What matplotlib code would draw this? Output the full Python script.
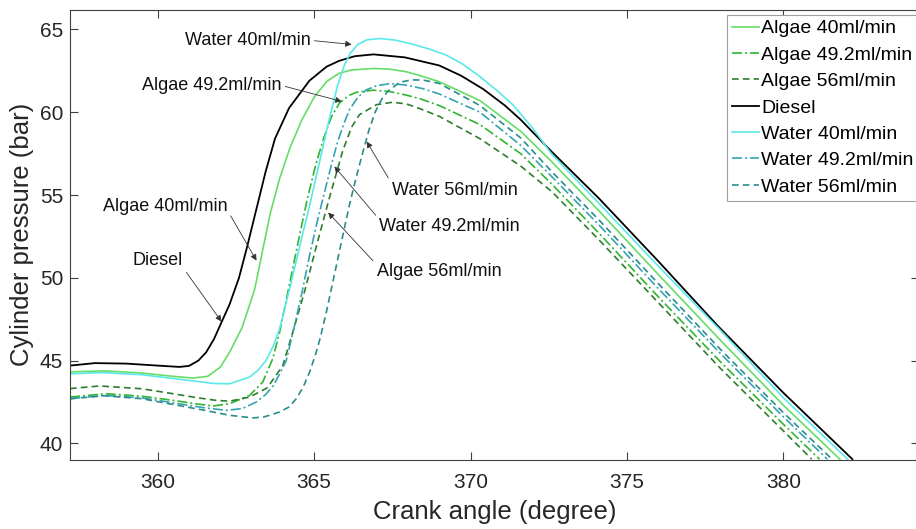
import matplotlib
matplotlib.use('Agg')
import matplotlib.pyplot as plt

plt.rcParams['font.family'] = ['Liberation Sans', 'DejaVu Sans']

# crank angle (deg) / cylinder pressure (bar)
diesel_x = [357.2, 358.0, 359.0, 360.0, 360.7, 361.0, 361.3, 361.55, 361.8, 362.05, 362.3, 362.6,
            362.85, 363.15, 363.45, 363.75, 364.2, 364.85, 365.4, 365.8, 366.3, 366.9, 367.9, 369.0,
            369.7, 370.4, 371.1, 371.6, 372.6, 374.1, 376.0, 377.9, 380.0, 382.2]
diesel_y = [44.70, 44.85, 44.82, 44.70, 44.62, 44.68, 45.0, 45.5, 46.3, 47.35, 48.4, 50.0,
            51.8, 54.1, 56.4, 58.4, 60.25, 61.9, 62.75, 63.1, 63.38, 63.49, 63.31, 62.82,
            62.2, 61.4, 60.4, 59.55, 57.6, 54.8, 51.0, 47.1, 43.05, 39.05]

algae40_x = [357.2, 358.3, 359.5, 360.5, 361.13, 361.6, 362.0, 362.3, 362.7, 363.1, 363.35, 363.6,
             363.9, 364.22, 364.6, 365.0, 365.4, 365.8, 366.2, 366.9, 367.4, 367.95, 368.4, 369.0,
             370.3, 371.6, 372.6, 374.1, 376.0, 378.0, 380.0, 381.8]
algae40_y = [44.32, 44.38, 44.25, 44.05, 43.95, 44.05, 44.6, 45.5, 47.0, 49.3, 51.6, 53.9,
             56.0, 57.8, 59.5, 60.9, 61.85, 62.35, 62.55, 62.64, 62.6, 62.44, 62.2, 61.84,
             60.7, 58.85, 57.0, 54.05, 50.2, 46.2, 42.3, 39.05]

algae49_x = [357.2, 358.36, 359.5, 360.5, 361.2, 361.77, 362.3, 362.94, 363.36, 363.68, 363.9, 364.06,
             364.3, 364.55, 364.8, 365.05, 365.3, 365.55, 365.81, 366.1, 366.35, 366.88, 367.4, 367.95,
             368.4, 369.0, 370.3, 371.6, 372.6, 374.1, 376.0, 378.0, 380.0, 381.15]
algae49_y = [42.80, 43.00, 42.85, 42.6, 42.4, 42.26, 42.4, 42.9, 43.71, 45.12, 46.73, 48.2,
             50.4, 52.7, 54.9, 56.8, 58.4, 59.7, 60.55, 61.0, 61.2, 61.33, 61.25, 61.03,
             60.8, 60.4, 59.25, 57.5, 55.65, 52.7, 48.85, 44.9, 41.15, 39.05]

algae56_x = [357.2, 358.15, 359.5, 360.5, 361.3, 361.87, 362.3, 362.94, 363.5, 364.0, 364.3, 364.7,
             365.1, 365.5, 365.92, 366.2, 366.45, 366.99, 367.5, 367.95, 368.4, 369.0, 370.3, 371.6,
             372.6, 374.1, 376.0, 378.0, 380.0, 380.9]
algae56_y = [43.31, 43.47, 43.3, 43.0, 42.75, 42.6, 42.55, 42.8, 43.35, 44.7, 46.6, 49.2,
             52.1, 54.9, 57.7, 59.1, 59.85, 60.45, 60.6, 60.5, 60.2, 59.75, 58.4, 56.75,
             55.2, 52.3, 48.5, 44.5, 40.75, 39.05]

water40_x = [357.2, 358.2, 359.5, 360.8, 361.8, 362.3, 362.94, 363.2, 363.47, 363.7, 363.9, 364.22,
             364.54, 364.85, 365.15, 365.45, 365.75, 365.95, 366.15, 366.4, 366.7, 367.1, 367.6, 368.16,
             368.7, 369.22, 369.75, 370.3, 370.85, 371.35, 372.0, 372.6, 374.1, 376.0, 378.0, 380.0, 382.05]
water40_y = [44.20, 44.28, 44.15, 43.85, 43.62, 43.60, 44.01, 44.4, 45.02, 45.9, 46.93, 49.35,
             51.9, 54.3, 56.8, 59.3, 61.6, 62.75, 63.55, 64.1, 64.37, 64.45, 64.35, 64.1,
             63.8, 63.45, 62.9, 62.15, 61.3, 60.45, 59.0, 57.45, 54.5, 50.7, 46.8, 42.75, 39.05]

water49_x = [357.2, 358.3, 359.5, 360.5, 361.5, 362.19, 362.7, 363.15, 363.45, 363.7, 363.9, 364.11,
             364.35, 364.6, 364.85, 365.1, 365.35, 365.55, 365.75, 365.95, 366.13, 366.4, 366.67, 367.0,
             367.41, 367.9, 368.48, 369.0, 370.3, 371.6, 372.6, 374.1, 376.0, 378.0, 380.0, 381.4]
water49_y = [42.70, 42.90, 42.75, 42.45, 42.15, 42.0, 42.1, 42.5, 42.95, 43.5, 44.2, 45.0,
             46.9, 49.0, 51.3, 53.4, 55.3, 56.8, 58.2, 59.3, 60.15, 60.9, 61.35, 61.6,
             61.72, 61.65, 61.42, 61.1, 60.0, 58.0, 56.1, 53.2, 49.35, 45.4, 41.6, 39.05]

water56_x = [357.2, 358.3, 359.5, 360.5, 361.5, 362.3, 363.04, 363.4, 363.9, 364.2, 364.43, 364.65,
             364.86, 365.05, 365.2, 365.4, 365.65, 365.9, 366.13, 366.35, 366.56, 366.75, 366.95, 367.15,
             367.35, 367.73, 368.1, 368.48, 369.0, 370.3, 371.6, 372.6, 374.1, 376.0, 378.0, 380.0, 381.55]
water56_y = [42.70, 42.88, 42.7, 42.35, 42.0, 41.7, 41.54, 41.6, 41.9, 42.2, 42.7, 43.4,
             44.32, 45.4, 46.4, 48.0, 50.2, 52.4, 54.4, 56.1, 57.6, 58.9, 60.0, 60.75,
             61.25, 61.8, 61.95, 61.94, 61.74, 60.4, 58.45, 56.4, 53.5, 49.65, 45.65, 41.85, 39.05]

labels = ['Algae 40ml/min', 'Algae 49.2ml/min', 'Algae 56ml/min', 'Diesel',
          'Water 40ml/min', 'Water 49.2ml/min', 'Water 56ml/min']

x_ticks = [360, 365, 370, 375, 380]
y_ticks = [40, 45, 50, 55, 60, 65]

W, H = 916, 529
fig = plt.figure(figsize=(W / 100, H / 100), dpi=100)
# axes runs just past the right edge, like the cropped original
ax = fig.add_axes([70 / W, (H - 460) / H, (919 - 70) / W, 450.5 / H])

dash = (0, (4, 2.5))
dashdot = (0, (6, 1.8, 1.2, 1.8))
lw = 1.2

ax.plot(algae40_x, algae40_y, color='#66dd66', lw=lw, label=labels[0])
ax.plot(algae49_x, algae49_y, color='#2fb52f', lw=lw, linestyle=dashdot, label=labels[1])
ax.plot(algae56_x, algae56_y, color='#2e7d2e', lw=lw, linestyle=dash, label=labels[2])
ax.plot(diesel_x, diesel_y, color='black', lw=1.3, label=labels[3])
ax.plot(water40_x, water40_y, color='#5ce8e8', lw=lw, label=labels[4])
ax.plot(water49_x, water49_y, color='#35a3b0', lw=lw, linestyle=dashdot, label=labels[5])
ax.plot(water56_x, water56_y, color='#2b8c8c', lw=lw, linestyle=dash, label=labels[6])

ax.set_xlim(357.2, 384.33)
ax.set_ylim(39.0, 66.2)
ax.set_xticks(x_ticks)
ax.set_yticks(y_ticks)
ax.tick_params(direction='in', length=5.5, width=0.8, color='#404040', labelcolor='#262626',
               labelsize=15, top=True, right=True)
ax.tick_params(axis='x', pad=9)
ax.tick_params(axis='y', pad=5)
for s in ax.spines.values():
    s.set_color('#404040')
    s.set_linewidth(0.8)

ax.set_xlabel('Crank angle (degree)', fontsize=18.5, color='#262626')
ax.set_ylabel('Cylinder pressure (bar)', fontsize=18.5, color='#262626')
ax.xaxis.set_label_coords(0.5, -0.088)
ax.yaxis.set_label_coords(-0.042, 0.5)

arrow = dict(arrowstyle='-|>', color='#333333', lw=0.6, mutation_scale=9, shrinkA=1, shrinkB=0)
notes = [
    ('Water 40ml/min', (366.2, 64.09), (360.86, 64.34), (1, 0.5)),
    ('Algae 49.2ml/min', (365.88, 60.65), (359.49, 61.62), (1, 0.5)),
    ('Algae 40ml/min', (363.16, 51.04), (358.24, 54.31), (1, 0.3)),
    ('Diesel', (362.04, 47.36), (359.2, 51.04), (1, 0.1)),
    ('Water 56ml/min', (366.68, 58.23), (367.48, 55.27), (0, 0.9)),
    ('Water 49.2ml/min', (365.65, 56.72), (367.09, 53.1), (0, 0.9)),
    ('Algae 56ml/min', (365.45, 53.94), (366.997, 50.38), (0, 0.9)),
]
for txt, tip, pos, rel in notes:
    a = dict(arrow)
    a['relpos'] = rel
    ax.annotate(txt, xy=tip, xytext=pos, fontsize=13, ha='left', va='center',
                color='#111111', arrowprops=a)

leg = ax.legend(loc='upper left', bbox_to_anchor=(727 / W, 1 - 15 / H), bbox_transform=fig.transFigure,
                fontsize=14, frameon=True, fancybox=False, framealpha=1, edgecolor='#a0a0a0',
                borderpad=0.25, labelspacing=0.45, handlelength=1.4, handletextpad=0.1,
                borderaxespad=0)
leg.get_frame().set_linewidth(0.8)

fig.savefig('out.png', dpi=100)
